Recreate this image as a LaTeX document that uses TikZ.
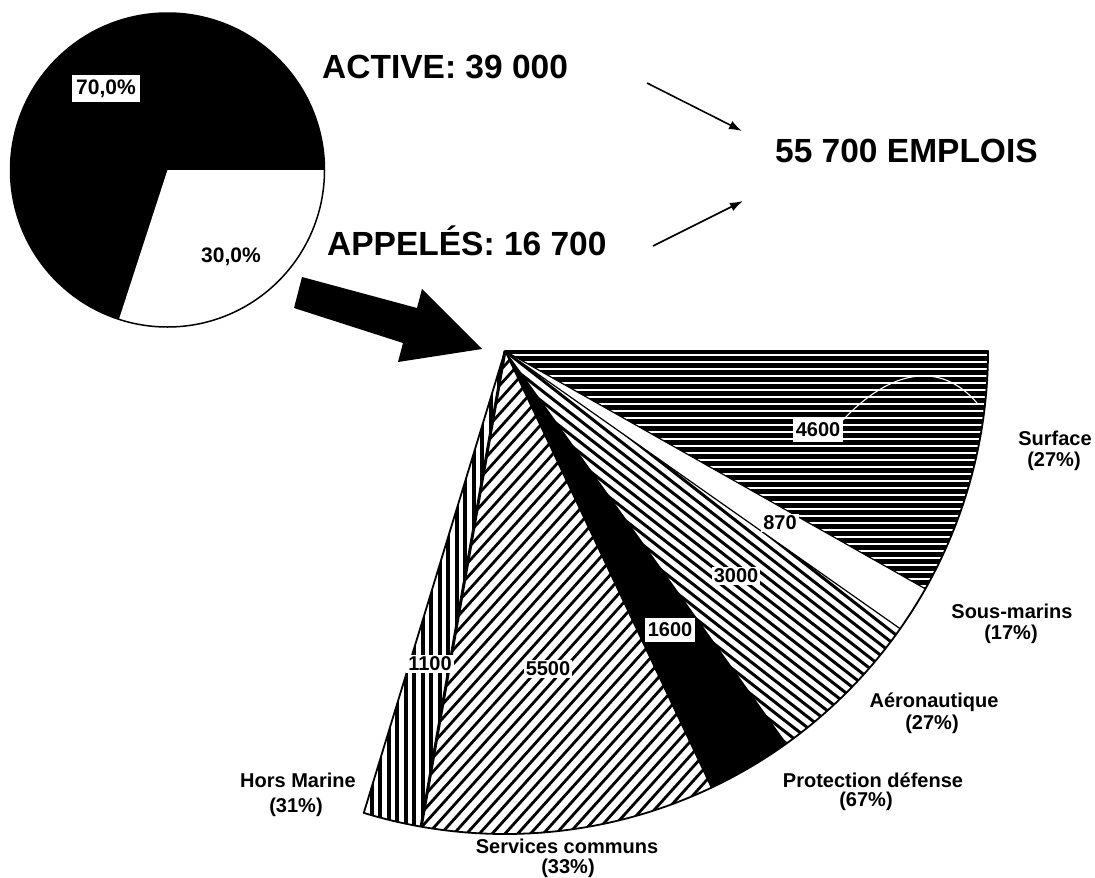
\documentclass[tikz,border=0pt]{standalone}
\usepackage{fontspec}
\setmainfont{Liberation Sans}
\usetikzlibrary{arrows.meta}
\begin{document}
\begin{tikzpicture}[x=1pt,y=-1pt,
  bigtxt/.style={font=\fontsize{33.5}{40}\selectfont\bfseries, inner sep=0pt, anchor=base west},
  lbl/.style={font=\fontsize{20}{24}\selectfont\bfseries, inner sep=0pt, anchor=base},
  num/.style={font=\fontsize{20}{24}\selectfont\bfseries, fill=white, inner sep=2pt},
  boxnum/.style={num, inner xsep=3pt, inner ysep=5.5pt},
  pct/.style={font=\fontsize{21}{24}\selectfont\bfseries, inner sep=0pt},
  thinarrow/.style={line width=1.6pt, -{Latex[length=13pt,width=9pt]}},
  edge/.style={line width=1.2pt},
]
\fill[white] (0,0) rectangle (1095,878);
\useasboundingbox (0,0) rectangle (1095,878);

% ---------- small pie: active / appeles ----------
\coordinate (P) at (167.5,170);
\fill[black] (P) circle[radius=157];
\fill[white] (P) -- ++(0:157) arc[start angle=0,end angle=108,radius=157] -- cycle;
\draw[line width=1.5pt] (P) circle[radius=157];
\node[pct, fill=white, inner xsep=4pt, inner ysep=4.5pt] (p70) at (106,88.5) {70,0\%};
\node[pct, anchor=base] (p30) at (231,262) {30,0\%};

% ---------- headline figures ----------
\node[bigtxt] (active) at (322,78) {ACTIVE: 39 000};
\node[bigtxt] (appel) at (327,255) {APPELÉS: 16 700};
\node[bigtxt] (emplois) at (775,162) {55 700 EMPLOIS};

\coordinate (a1s) at (647,83);
\coordinate (a1e) at (742,131);
\coordinate (a2s) at (653,246);
\coordinate (a2e) at (743,201);
\draw[thinarrow] (a1s) -- (a1e);
\draw[thinarrow] (a2s) -- (a2e);

% ---------- block arrow towards the fan ----------
\fill[black] (302,277) -- (417,308) -- (422,289) -- (482,349) -- (398,362)
  -- (403,343) -- (294,308) -- cycle;

% ---------- fan of the 16 700 conscripts ----------
\coordinate (F) at (505,351);

% Surface: black with thin white horizontal lines
\begin{scope}
  \clip (F) -- ++(0:483) arc[start angle=0,end angle=29.5,radius=483] -- cycle;
  \fill[black] (495,340) rectangle (1000,610);
  \foreach \yy in {355,362,...,610} \draw[white,line width=1.8pt] (495,\yy) -- (1000,\yy);
\end{scope}

% Aeronautique: descending diagonal lines
\begin{scope}
  \clip (F) -- ++(35.1:483) arc[start angle=35.1,end angle=54.4,radius=483] -- cycle;
  \begin{scope}[shift={(F)},rotate=-38]
    \foreach \k in {-60,...,60} \draw[line width=3pt] (-700,\k*8.5) -- (700,\k*8.5);
  \end{scope}
\end{scope}

% Protection defense: solid
\fill[black] (F) -- ++(54.4:483) arc[start angle=54.4,end angle=64.7,radius=483] -- cycle;

% Services communs: rising diagonal lines
\begin{scope}
  \clip (F) -- ++(64.7:483) arc[start angle=64.7,end angle=100,radius=483] -- cycle;
  \begin{scope}[shift={(F)},rotate=48]
    \foreach \k in {-60,...,60} \draw[line width=2.8pt] (-700,\k*9.5) -- (700,\k*9.5);
  \end{scope}
\end{scope}

% Hors Marine: vertical lines
\begin{scope}
  \clip (F) -- ++(100:483) arc[start angle=100,end angle=107,radius=483] -- cycle;
  \foreach \k in {0,...,20} \draw[line width=4pt] ({346+\k*8.5},340) -- ({346+\k*8.5},840);
\end{scope}

% sector borders and outline
\foreach \a in {29.5,35.1,54.4,64.7} \draw[edge] (F) -- ++(\a:483);
\draw[line width=3pt] (F) -- ++(100:483);
\draw[line width=1.8pt, line join=round] (F) -- ++(0:483)
  arc[start angle=0,end angle=107,radius=483] -- cycle;

% values inside the fan
\node[boxnum] (n4600) at (818,429.5) {4600};
\coordinate (c4600) at (977,403);
\draw[white,line width=1.1pt] (843,420) .. controls (890,370) and (940,360) .. (c4600);
\node[num] (n870) at (780,523) {870};
\node[num] (n3000) at (736,576) {3000};
\node[boxnum, draw=black, line width=0.8pt] (n1600) at (670,630) {1600};
\node[num] (n5500) at (548,669) {5500};
\node[num] (n1100) at (430,664) {1100};

% sector names
\node[lbl] (sf1) at (1055,445) {Surface};
\node[lbl] (sf2) at (1054,466) {(27\%)};
\node[lbl] (sm1) at (1012,618) {Sous-marins};
\node[lbl] (sm2) at (1011,639) {(17\%)};
\node[lbl] (ae1) at (934,707) {Aéronautique};
\node[lbl] (ae2) at (932,729) {(27\%)};
\node[lbl] (pd1) at (873,787) {Protection défense};
\node[lbl] (pd2) at (866,806) {(67\%)};
\node[lbl] (sc1) at (567,853) {Services communs};
\node[lbl] (sc2) at (568,873) {(33\%)};
\node[lbl] (hm1) at (298,787) {Hors Marine};
\node[lbl] (hm2) at (296,812) {(31\%)};
\end{tikzpicture}
\end{document}
